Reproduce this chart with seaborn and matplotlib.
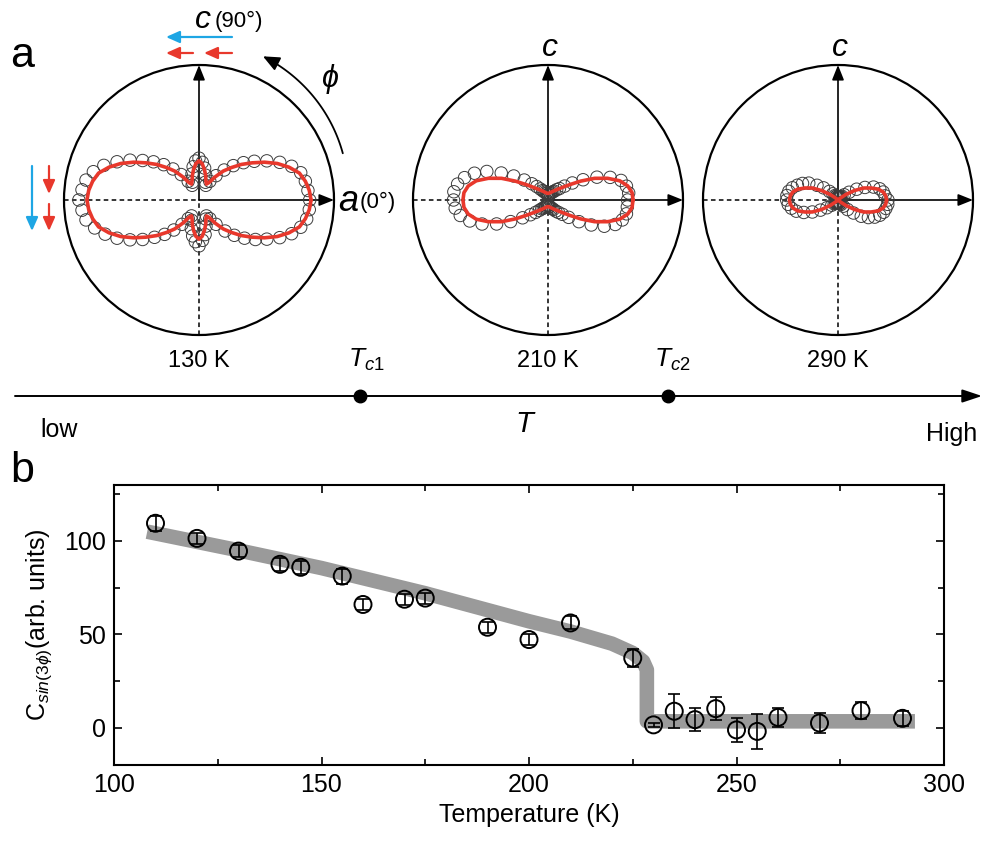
import numpy as np
import matplotlib
matplotlib.use("Agg")
import matplotlib.pyplot as plt
from matplotlib.patches import Circle, FancyArrowPatch
from matplotlib.path import Path
from matplotlib.ticker import MultipleLocator
import seaborn as sns

# ---------------- panel b: sin(3phi) coefficient vs temperature ----------------
temperature_k = [110, 120, 130, 140, 145, 155, 160, 170, 175, 190, 200, 210,
                 225, 230, 235, 240, 245, 250, 255, 260, 270, 280, 290]
c_sin3phi = [109.5, 101.4, 94.6, 87.5, 85.9, 81.2, 66.0, 68.8, 69.4, 53.8, 47.2, 56.1,
             37.3, 1.5, 8.8, 4.3, 10.2, -1.2, -2.0, 5.5, 2.5, 9.1, 5.0]
c_err = [4.0, 3.0, 3.0, 3.5, 3.5, 4.0, 3.0, 3.0, 3.0, 3.0, 3.0, 3.5,
         5.0, 1.0, 9.0, 6.3, 6.0, 6.5, 9.4, 5.0, 5.4, 4.5, 4.0]

# order-parameter guide line
fit_temperature_k = [108, 130, 150, 175, 200, 210, 220, 225, 227.5, 228.4, 228.4, 293]
fit_c = [105.0, 95.0, 85.5, 72.0, 57.0, 51.5, 45.0, 40.0, 35.5, 31.0, 3.4, 3.4]

# ---------------- panel a: polar SHG patterns (radius in units of the frame circle) ----
phi_deg = list(range(0, 360, 5))

r_130k = [0.82, 0.81, 0.80, 0.78, 0.73, 0.66, 0.58, 0.50, 0.43, 0.36, 0.29, 0.22, 0.16, 0.12, 0.14, 0.19, 0.24, 0.28,
          0.31, 0.29, 0.25, 0.20, 0.14, 0.12, 0.16, 0.23, 0.30, 0.37, 0.44, 0.51, 0.59, 0.67, 0.75, 0.81, 0.85, 0.87,
          0.89, 0.87, 0.85, 0.80, 0.74, 0.67, 0.59, 0.51, 0.43, 0.36, 0.29, 0.22, 0.16, 0.13, 0.16, 0.22, 0.27, 0.31,
          0.34, 0.30, 0.26, 0.20, 0.15, 0.13, 0.16, 0.22, 0.30, 0.37, 0.44, 0.51, 0.58, 0.66, 0.73, 0.78, 0.81, 0.82]
r_210k = [0.59, 0.60, 0.59, 0.56, 0.49, 0.40, 0.30, 0.22, 0.16, 0.12, 0.10, 0.08, 0.07, 0.06, 0.05, 0.05, 0.04, 0.04,
          0.04, 0.04, 0.05, 0.05, 0.06, 0.07, 0.08, 0.10, 0.13, 0.17, 0.23, 0.31, 0.40, 0.50, 0.58, 0.64, 0.68, 0.70,
          0.70, 0.69, 0.66, 0.60, 0.52, 0.42, 0.32, 0.23, 0.17, 0.13, 0.10, 0.08, 0.07, 0.06, 0.05, 0.05, 0.04, 0.04,
          0.04, 0.04, 0.05, 0.05, 0.06, 0.07, 0.08, 0.10, 0.12, 0.15, 0.20, 0.28, 0.37, 0.46, 0.53, 0.57, 0.59, 0.59]
r_290k = [0.37, 0.35, 0.34, 0.32, 0.28, 0.22, 0.16, 0.10, 0.06, 0.04, 0.03, 0.03, 0.02, 0.02, 0.02, 0.02, 0.02, 0.02,
          0.02, 0.02, 0.02, 0.02, 0.02, 0.03, 0.03, 0.04, 0.06, 0.09, 0.14, 0.19, 0.25, 0.29, 0.32, 0.35, 0.37, 0.38,
          0.38, 0.37, 0.35, 0.32, 0.27, 0.21, 0.15, 0.10, 0.06, 0.04, 0.03, 0.03, 0.02, 0.02, 0.02, 0.02, 0.02, 0.02,
          0.02, 0.02, 0.02, 0.02, 0.02, 0.03, 0.03, 0.04, 0.06, 0.10, 0.15, 0.21, 0.26, 0.30, 0.33, 0.35, 0.36, 0.37]

# model fits, one quadrant (0..90 deg, 5 deg steps); the model is mirror-symmetric about a and c
fit_phi_quadrant = list(range(0, 95, 5))
fit_130k_q = [0.83, 0.82, 0.80, 0.77, 0.71, 0.64, 0.56, 0.48, 0.41, 0.34, 0.28, 0.21, 0.15, 0.13, 0.15, 0.19, 0.23, 0.27, 0.29]
fit_210k_q = [0.63, 0.625, 0.60, 0.55, 0.47, 0.38, 0.28, 0.20, 0.15, 0.12, 0.10, 0.085, 0.075, 0.066, 0.06, 0.055, 0.052, 0.05, 0.049]
fit_290k_q = [0.36, 0.355, 0.34, 0.31, 0.26, 0.21, 0.14, 0.07, 0.02, 0.0, 0.0, 0.0, 0.0, 0.0, 0.0, 0.0, 0.0, 0.0, 0.0]

panel_temps = ["130 K", "210 K", "290 K"]
transition_labels = [r"$T_{c1}$", r"$T_{c2}$"]

# ---------------- style ----------------
sns.set_theme(style="ticks")
plt.rcParams["font.family"] = ["Liberation Sans", "DejaVu Sans"]
plt.rcParams["mathtext.fontset"] = "custom"
plt.rcParams["mathtext.rm"] = "Liberation Sans"
plt.rcParams["mathtext.it"] = "Liberation Sans:italic"
plt.rcParams["mathtext.fallback"] = "stixsans"
plt.rcParams["text.color"] = "black"
plt.rcParams["axes.labelcolor"] = "black"
plt.rcParams["xtick.color"] = "black"
plt.rcParams["ytick.color"] = "black"

RED = "#e8382c"
BLUE = "#1ea6e4"
GREY = "#9a9a9a"

W, H = 985, 841
fig = plt.figure(figsize=(W / 100, H / 100), dpi=100)
fig.patch.set_facecolor("white")

# overlay in pixel units for the schematic parts
over = fig.add_axes([0, 0, 1, 1])
over.set_xlim(0, W)
over.set_ylim(H, 0)
over.axis("off")

R_PX = 135
LIM = 1.1


def polar_frame(cx, cy):
    side = 2 * LIM * R_PX
    ax = fig.add_axes([(cx - side / 2) / W, (H - cy - side / 2) / H, side / W, side / H])
    ax.set_xlim(-LIM, LIM)
    ax.set_ylim(-LIM, LIM)
    ax.axis("off")
    ax.add_patch(Circle((0, 0), 1.0, fill=False, lw=1.6, ec="black", zorder=1))
    ax.plot([-1, 0], [0, 0], ls=(0, (3.0, 2.2)), lw=1.1, color="black", zorder=1)
    ax.plot([0, 0], [-1, 0], ls=(0, (3.0, 2.2)), lw=1.1, color="black", zorder=1)
    arrow = dict(arrowstyle="-|>,head_length=0.45,head_width=0.18", mutation_scale=20,
                 lw=1.2, color="black", shrinkA=0, shrinkB=0)
    ax.annotate("", xy=(1, 0), xytext=(0, 0), arrowprops=arrow, zorder=1)
    ax.annotate("", xy=(0, 1), xytext=(0, 0), arrowprops=arrow, zorder=1)
    return ax


def full_fit(q):
    q = list(q)
    return q + q[17::-1] + q[1:] + q[17::-1]


centers = [(199, 200), (548, 200), (838, 200)]
data_sets = [r_130k, r_210k, r_290k]
fit_sets = [fit_130k_q, fit_210k_q, fit_290k_q]
phi = np.deg2rad(phi_deg)
phi_fit = np.deg2rad(np.arange(0, 361, 5))

polar_axes = []
for (cx, cy), rd, rq in zip(centers, data_sets, fit_sets):
    ax = polar_frame(cx, cy)
    polar_axes.append(ax)
    rd = np.asarray(rd)
    sns.scatterplot(x=rd * np.cos(phi), y=rd * np.sin(phi), ax=ax, s=80, marker="o",
                    facecolors="none", edgecolor="#3c3c3c", linewidth=0.7, zorder=2)
    rf = np.asarray(full_fit(rq))
    sns.lineplot(x=rf * np.cos(phi_fit), y=rf * np.sin(phi_fit), ax=ax, sort=False,
                 estimator=None, color=RED, lw=2.6, zorder=3)
    ax.set_xlim(-LIM, LIM)
    ax.set_ylim(-LIM, LIM)

# rotation-angle arrow around the first frame
ax0 = polar_axes[0]
t = np.deg2rad(np.linspace(18, 66, 50))
rr = np.linspace(1.12, 1.165, 50)
arc = FancyArrowPatch(path=Path(np.column_stack([rr * np.cos(t), rr * np.sin(t)])),
                      arrowstyle="-|>,head_length=0.5,head_width=0.22", mutation_scale=20,
                      lw=1.3, color="black", clip_on=False)
ax0.add_patch(arc)

# axis labels of the frames
over.text(195, 28, "c", fontsize=23, style="italic", ha="left", va="baseline")
over.text(215, 27, "(90°)", fontsize=16, ha="left", va="baseline")
over.text(338, 211, "a", fontsize=26, style="italic", ha="left", va="baseline")
over.text(360, 208, "(0°)", fontsize=16, ha="left", va="baseline")
for cx in (550, 840):
    over.text(cx, 56, "c", fontsize=23, style="italic", ha="center", va="baseline")
over.text(330, 79, "ϕ", fontsize=22, style="italic", ha="center", va="center",
          family=["Liberation Sans", "DejaVu Sans"])

# polarization arrows
col_arrow = lambda c: dict(arrowstyle="-|>,head_length=0.45,head_width=0.2", mutation_scale=18,
                           lw=1.6, color=c, shrinkA=0, shrinkB=0)
over.annotate("", xy=(166, 37), xytext=(232, 37), arrowprops=col_arrow(BLUE))
over.annotate("", xy=(204, 53), xytext=(232, 53), arrowprops=col_arrow(RED))
over.annotate("", xy=(166, 53), xytext=(193, 53), arrowprops=col_arrow(RED))
over.annotate("", xy=(32, 231), xytext=(32, 166), arrowprops=col_arrow(BLUE))
over.annotate("", xy=(49, 194), xytext=(49, 166), arrowprops=col_arrow(RED))
over.annotate("", xy=(49, 231), xytext=(49, 204), arrowprops=col_arrow(RED))

# temperature axis schematic
for (cx, _), lab in zip(centers, panel_temps):
    over.text(cx, 367, lab, fontsize=17, ha="center", va="baseline")
for x, lab in zip((366, 672), transition_labels):
    over.text(x, 367, lab, fontsize=19, ha="center", va="baseline")
over.annotate("", xy=(982, 396), xytext=(15, 396),
              arrowprops=dict(arrowstyle="-|>,head_length=0.6,head_width=0.2", mutation_scale=20,
                              lw=1.4, color="black", shrinkA=0, shrinkB=0))
over.plot([360, 668], [396, 396], "o", ms=9, color="black")
over.text(40, 437, "low", fontsize=18, ha="left", va="baseline")
over.text(526, 432, r"$T$", fontsize=21, ha="center", va="baseline")
over.text(977, 441, "High", fontsize=18, ha="right", va="baseline")

# panel letters
over.text(10, 67, "a", fontsize=31, ha="left", va="baseline")
over.text(10, 482, "b", fontsize=31, ha="left", va="baseline")

# ---------------- panel b ----------------
axb = fig.add_axes([114 / W, (H - 765) / H, (944 - 114) / W, (765 - 485) / H])
sns.lineplot(x=fit_temperature_k, y=fit_c, ax=axb, sort=False, estimator=None,
             color=GREY, lw=10.5, zorder=2)
guide = axb.lines[-1]
guide.set_solid_joinstyle("round")
guide.set_solid_capstyle("butt")
axb.errorbar(temperature_k, c_sin3phi, yerr=c_err, fmt="none", ecolor="black",
             elinewidth=1.2, capsize=4, capthick=1.2, zorder=3)
sns.scatterplot(x=temperature_k, y=c_sin3phi, ax=axb, s=150, marker="o",
                facecolors="none", edgecolor="black", linewidth=1.4, zorder=4)

axb.set_xlim(100, 300)
axb.set_ylim(-20, 130)
axb.xaxis.set_major_locator(MultipleLocator(50))
axb.xaxis.set_minor_locator(MultipleLocator(25))
axb.yaxis.set_major_locator(MultipleLocator(50))
axb.yaxis.set_minor_locator(MultipleLocator(25))
axb.tick_params(which="both", direction="in", top=True, right=True, width=1.2,
                labelsize=18, pad=6, color="black", labelcolor="black")
axb.tick_params(which="major", length=6)
axb.tick_params(which="minor", length=4)
for sp in axb.spines.values():
    sp.set_linewidth(1.5)
    sp.set_color("black")
axb.set_xlabel("Temperature (K)", fontsize=18, labelpad=4, color="black")
axb.set_ylabel(r"C$_{\mathit{sin(3\phi)}}$(arb. units)", fontsize=18, labelpad=7, color="black")

fig.savefig("out.png", dpi=100, facecolor="white")
